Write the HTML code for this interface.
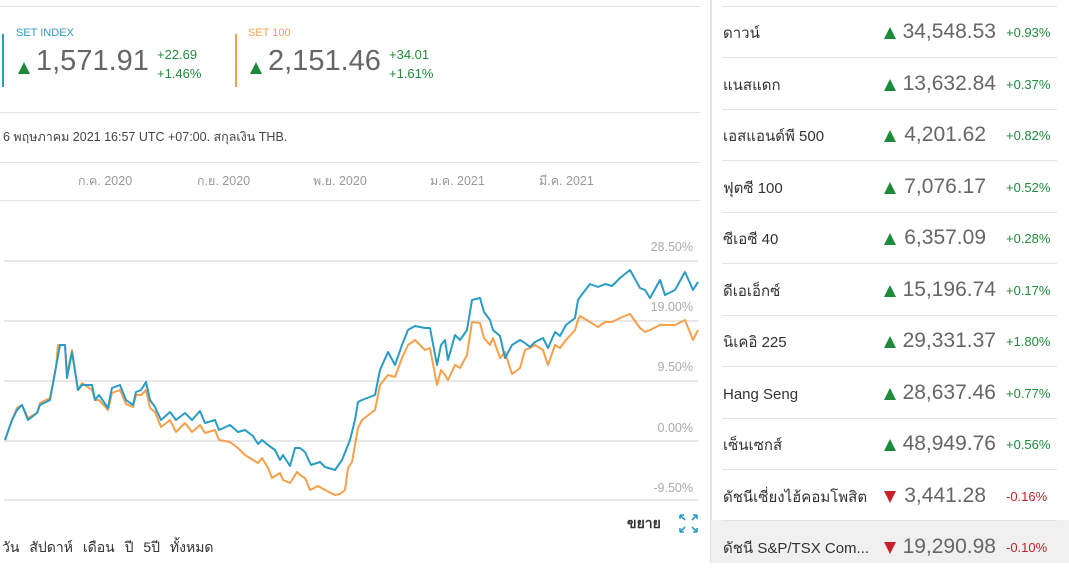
<!DOCTYPE html>
<html><head><meta charset="utf-8"><style>
*{margin:0;padding:0;box-sizing:border-box}
body{width:1069px;height:563px;background:#fff;font-family:"Liberation Sans","Noto Sans CJK SC",sans-serif;position:relative;overflow:hidden;color:#333;line-height:1.2}
.a{position:absolute;white-space:nowrap}
.hl{position:absolute;height:1px;background:#e3e3e3}
.g{color:#1e8a3c}.r{color:#c8202a}
.up{display:inline-block;width:0;height:0;border-left:6px solid transparent;border-right:6px solid transparent;border-bottom:12px solid #1e8a3c;vertical-align:top}
.dn{display:inline-block;width:0;height:0;border-left:6px solid transparent;border-right:6px solid transparent;border-top:12px solid #c8202a;vertical-align:top}
.row{position:absolute;left:711px;width:358px;height:51px}
.nm{position:absolute;left:12px;top:19px;font-size:15px;line-height:18px;color:#333}
.tr{position:absolute;left:173px;top:21px;line-height:12px}
.vl{position:absolute;right:73px;top:13px;font-size:21px;line-height:25px;color:#666}
.pc{position:absolute;left:295px;top:19px;font-size:13px;line-height:15px}
</style></head><body>
<div class="hl" style="left:0;top:6px;width:700px"></div>
<div class="a" style="left:2px;top:34px;width:2px;height:53px;background:#2a9cc4"></div>
<div class="a" style="left:16px;top:27px;font-size:11px;color:#2a9cc4">SET INDEX</div>
<div class="a" style="left:18px;top:62px;line-height:12px"><span class="up"></span></div>
<div class="a" style="left:36px;top:44px;font-size:29px;line-height:34px;color:#666">1,571.91</div>
<div class="a g" style="left:157px;top:45px;font-size:13px;line-height:19px">+22.69<br>+1.46%</div>
<div class="a" style="left:235px;top:34px;width:2px;height:53px;background:#f7a04b"></div>
<div class="a" style="left:248px;top:27px;font-size:11px;color:#f7a04b">SET 100</div>
<div class="a" style="left:250px;top:62px;line-height:12px"><span class="up"></span></div>
<div class="a" style="left:268px;top:44px;font-size:29px;line-height:34px;color:#666">2,151.46</div>
<div class="a g" style="left:389px;top:45px;font-size:13px;line-height:19px">+34.01<br>+1.61%</div>
<div class="hl" style="left:0;top:112px;width:700px"></div>
<div class="a" style="left:3px;top:130px;font-size:12.5px;color:#444">6 พฤษภาคม 2021 16:57 UTC +07:00. สกุลเงิน THB.</div>
<div class="hl" style="left:0;top:162px;width:700px"></div>
<div class="a" style="left:78px;top:174px;font-size:12.5px;color:#999">ก.ค. 2020</div>
<div class="a" style="left:197px;top:174px;font-size:12.5px;color:#999">ก.ย. 2020</div>
<div class="a" style="left:313px;top:174px;font-size:12.5px;color:#999">พ.ย. 2020</div>
<div class="a" style="left:430px;top:174px;font-size:12.5px;color:#999">ม.ค. 2021</div>
<div class="a" style="left:539px;top:174px;font-size:12.5px;color:#999">มี.ค. 2021</div>
<div class="hl" style="left:0;top:200px;width:700px"></div>
<svg class="a" style="left:0;top:0" width="705" height="563">
<g stroke="#e0e0e0" stroke-width="1.5"><line x1="4" y1="261" x2="698" y2="261"/><line x1="4" y1="321" x2="698" y2="321"/><line x1="4" y1="381" x2="698" y2="381"/><line x1="4" y1="441" x2="698" y2="441"/><line x1="4" y1="500" x2="698" y2="500"/></g>
<g font-family="Liberation Sans,sans-serif" font-size="12.5" fill="#aaa" text-anchor="end"><text x="693" y="251">28.50%</text><text x="693" y="311">19.00%</text><text x="693" y="371">9.50%</text><text x="693" y="432">0.00%</text><text x="693" y="492">-9.50%</text></g>
<polyline fill="none" stroke="#f7a04b" stroke-width="2" stroke-linejoin="round" points="5,440 12,420 17,408 22,405 28,418 37,413 40,403 50,398 56,367 58,345 65,345 67,375 72,350 78,390 82,383 92,390 95,400 99,400 108,410 112,393 120,390 126,404 133,407 136,395 141,395 146,390 150,408 155,412 161,427 170,420 176,432 185,423 192,432 200,425 205,433 215,430 219,440 230,442 238,448 245,455 253,460 258,463 262,458 268,468 272,478 280,473 283,480 290,483 297,472 300,475 305,478 310,490 318,486 325,490 335,495 340,494 345,490 348,468 352,462 358,428 362,420 375,410 380,385 388,375 395,377 402,358 408,345 415,340 425,350 430,348 437,385 441,370 445,375 448,380 455,365 460,368 467,355 472,322 480,323 484,338 490,345 493,338 500,358 505,352 512,374 520,368 525,350 530,348 535,345 543,350 548,365 555,345 560,348 566,340 575,330 578,320 580,316 590,322 598,327 605,322 612,322 620,318 630,314 640,328 645,332 650,330 660,325 665,325 675,325 685,320 693,340 698,330"/>
<polyline fill="none" stroke="#2a9cc4" stroke-width="2" stroke-linejoin="round" points="5,440 12,420 17,410 22,405 28,420 37,413 40,405 50,400 56,367 60,345 65,345 67,378 72,352 78,390 82,385 92,385 95,400 99,395 108,408 110,397 112,388 120,385 126,400 133,405 136,392 141,390 146,382 150,400 155,407 161,420 170,412 176,420 185,413 192,420 200,411 205,423 215,420 219,430 230,425 238,432 245,430 253,436 258,444 262,440 268,445 275,450 280,460 283,455 290,466 295,448 300,448 305,452 311,465 320,462 325,467 335,470 342,460 350,440 355,420 358,402 362,400 375,395 380,370 388,352 395,365 402,345 408,330 415,326 425,328 430,328 437,365 441,345 445,340 448,360 455,335 460,340 467,330 472,300 480,298 484,312 490,320 493,330 500,336 505,358 512,345 520,340 525,343 530,347 535,342 543,338 548,348 555,332 560,336 566,325 575,318 578,300 580,297 590,284 598,287 605,284 612,286 620,278 630,270 640,288 645,290 650,298 660,280 665,295 675,290 685,272 693,290 698,282"/>
<g stroke="#2a9cc4" stroke-width="1.6" fill="none"><path d="M680 515 l5 5 M680 515 v4 M680 515 h4 M697 515 l-5 5 M697 515 v4 M697 515 h-4 M680 532 l5 -5 M680 532 v-4 M680 532 h4 M697 532 l-5 -5 M697 532 v-4 M697 532 h-4"/></g>
</svg>
<div class="a" style="left:627px;top:515px;font-size:14px;font-weight:bold;color:#333">ขยาย</div>
<div class="a" style="left:2px;top:539px;font-size:14px;color:#333;word-spacing:6px">วัน สัปดาห์ เดือน ปี 5ปี ทั้งหมด</div>
<div class="a" style="left:710px;top:0;width:2px;height:563px;background:#e3e3e3"></div>
<div class="a" style="left:711px;top:520px;width:358px;height:43px;background:#f0f0f0"></div>
<div class="hl" style="left:722px;top:6px;width:335px"></div>
<div class="row" style="top:6px"><div class="nm">ดาวน์</div><div class="tr"><span class="up"></span></div><div class="vl">34,548.53</div><div class="pc g">+0.93%</div></div>
<div class="hl" style="left:722px;top:57px;width:335px"></div>
<div class="row" style="top:58px"><div class="nm">แนสแดก</div><div class="tr"><span class="up"></span></div><div class="vl">13,632.84</div><div class="pc g">+0.37%</div></div>
<div class="hl" style="left:722px;top:109px;width:335px"></div>
<div class="row" style="top:109px"><div class="nm">เอสแอนด์พี 500</div><div class="tr"><span class="up"></span></div><div class="vl" style="right:83px">4,201.62</div><div class="pc g">+0.82%</div></div>
<div class="hl" style="left:722px;top:160px;width:335px"></div>
<div class="row" style="top:161px"><div class="nm">ฟุตซี 100</div><div class="tr"><span class="up"></span></div><div class="vl" style="right:83px">7,076.17</div><div class="pc g">+0.52%</div></div>
<div class="hl" style="left:722px;top:212px;width:335px"></div>
<div class="row" style="top:212px"><div class="nm">ซีเอซี 40</div><div class="tr"><span class="up"></span></div><div class="vl" style="right:83px">6,357.09</div><div class="pc g">+0.28%</div></div>
<div class="hl" style="left:722px;top:263px;width:335px"></div>
<div class="row" style="top:264px"><div class="nm">ดีเอเอ็กซ์</div><div class="tr"><span class="up"></span></div><div class="vl">15,196.74</div><div class="pc g">+0.17%</div></div>
<div class="hl" style="left:722px;top:315px;width:335px"></div>
<div class="row" style="top:315px"><div class="nm">นิเคอิ 225</div><div class="tr"><span class="up"></span></div><div class="vl">29,331.37</div><div class="pc g">+1.80%</div></div>
<div class="hl" style="left:722px;top:366px;width:335px"></div>
<div class="row" style="top:367px"><div class="nm">Hang Seng</div><div class="tr"><span class="up"></span></div><div class="vl">28,637.46</div><div class="pc g">+0.77%</div></div>
<div class="hl" style="left:722px;top:418px;width:335px"></div>
<div class="row" style="top:418px"><div class="nm">เซ็นเซกส์</div><div class="tr"><span class="up"></span></div><div class="vl">48,949.76</div><div class="pc g">+0.56%</div></div>
<div class="hl" style="left:722px;top:469px;width:335px"></div>
<div class="row" style="top:470px"><div class="nm">ดัชนีเซี่ยงไฮ้คอมโพสิต</div><div class="tr"><span class="dn"></span></div><div class="vl" style="right:83px">3,441.28</div><div class="pc r">-0.16%</div></div>
<div class="hl" style="left:722px;top:520px;width:335px"></div>
<div class="row" style="top:521px"><div class="nm">ดัชนี S&amp;P/TSX Com...</div><div class="tr"><span class="dn"></span></div><div class="vl">19,290.98</div><div class="pc r">-0.10%</div></div>
</body></html>
